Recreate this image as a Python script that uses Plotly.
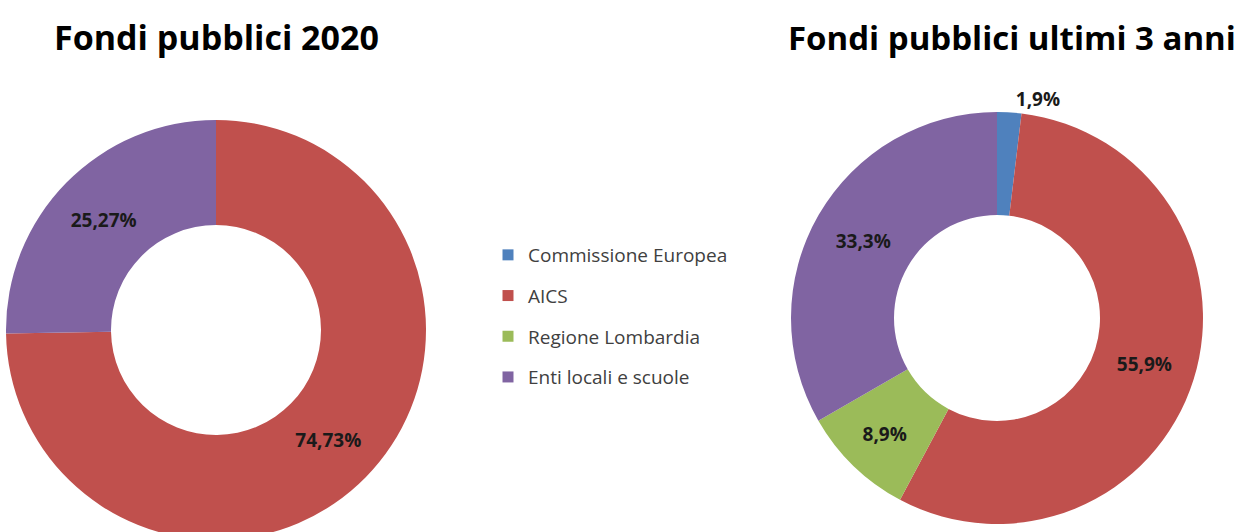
import plotly.graph_objects as go

categories = ["Commissione Europea", "AICS", "Regione Lombardia", "Enti locali e scuole"]
colors = ["#4F81BD", "#C0504D", "#9BBB59", "#8064A2"]
values_2020 = [0, 74.73, 0, 25.27]
values_3anni = [1.9, 55.9, 8.9, 33.3]
title_2020 = "Fondi pubblici 2020"
title_3anni = "Fondi pubblici ultimi 3 anni"

FONT = "Open Sans"

def fmt(vals, dec):
    return ["" if v == 0 else (f"{v:.{dec}f}".replace(".", ",") + "%") for v in vals]

W, H = 1242, 548

def py(p):
    return 1 - p / H

fig = go.Figure()

fig.add_trace(go.Pie(
    labels=categories, values=values_2020, text=fmt(values_2020, 2),
    textinfo="text", textposition="inside", insidetextorientation="horizontal",
    sort=False, direction="clockwise", rotation=0, hole=0.5,
    marker=dict(colors=colors, line=dict(width=0)),
    textfont=dict(family=FONT, size=19, color="#1a1a1a", weight="bold"),
    domain=dict(x=[6 / W, 426 / W], y=[py(540), py(120)]),
    showlegend=False, hoverinfo="label+percent",
))

fig.add_trace(go.Pie(
    labels=categories, values=values_3anni, text=fmt(values_3anni, 1),
    textinfo="text", textposition=["outside", "inside", "inside", "inside"],
    insidetextorientation="horizontal",
    sort=False, direction="clockwise", rotation=0, hole=0.5,
    marker=dict(colors=colors, line=dict(width=0)),
    textfont=dict(family=FONT, size=19, color="#1a1a1a", weight="bold"),
    domain=dict(x=[791 / W, 1203 / W], y=[py(524), py(112)]),
    showlegend=False, hoverinfo="label+percent",
))

for cat, col in zip(categories, colors):
    fig.add_trace(go.Scatter(
        x=[None], y=[None], mode="markers", name=cat, legendgroup=cat,
        marker=dict(symbol="square", size=11, color=col),
    ))

fig.add_annotation(text=title_2020, x=216 / W, y=py(37), xref="paper", yref="paper",
                   showarrow=False, xanchor="center", yanchor="middle",
                   font=dict(family=FONT, size=34, color="#000000", weight="bold"))
fig.add_annotation(text=title_3anni, x=1012 / W, y=py(37), xref="paper", yref="paper",
                   showarrow=False, xanchor="center", yanchor="middle",
                   font=dict(family=FONT, size=33, color="#000000", weight="bold"))

fig.update_layout(
    width=W, height=H, margin=dict(l=0, r=0, t=0, b=0),
    paper_bgcolor="white", plot_bgcolor="white",
    xaxis=dict(visible=False), yaxis=dict(visible=False),
    legend=dict(x=488 / W, y=py(236), xanchor="left", yanchor="top",
                tracegroupgap=13, font=dict(family=FONT, size=19, color="#404040"),
                bgcolor="rgba(0,0,0,0)"),
)

fig.write_html(
    "out.html",
    config={"displayModeBar": False},
    post_script=(
        "document.body.style.margin='0';"
        "document.body.style.overflow='hidden';"
        "document.documentElement.style.overflow='hidden';"
    ),
)
